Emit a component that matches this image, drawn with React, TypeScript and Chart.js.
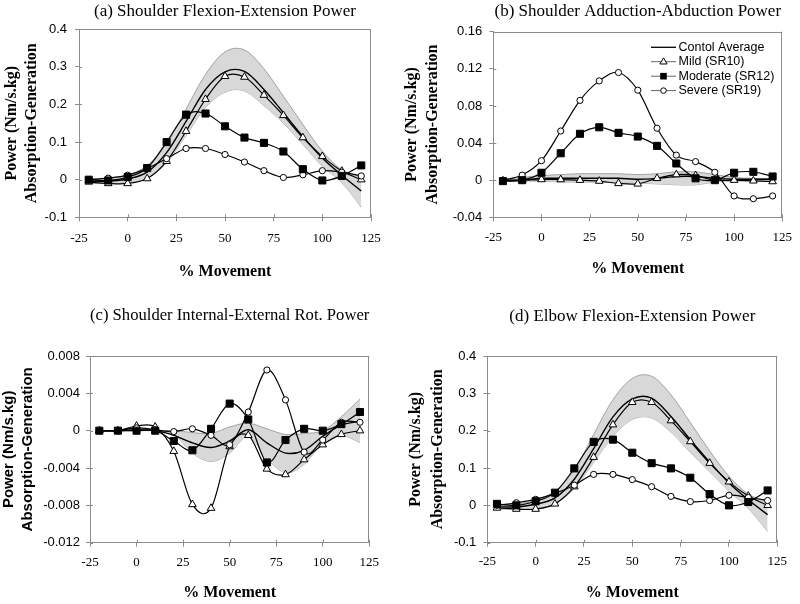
import React, { useEffect, useRef } from "react";
import { Chart, registerables } from "chart.js";

Chart.register(...registerables);

const SERIF = "'Times New Roman', 'Liberation Serif', serif";
const SANS = "Arial, 'Liberation Sans', sans-serif";

// ---------- data ----------
const X_PCT = [-20, -10, 0, 10, 20, 30, 40, 50, 60, 70, 80, 90, 100, 110, 120];

const LEGEND_LABELS = ["Contol Average", "Mild (SR10)", "Moderate (SR12)", "Severe (SR19)"];

const PANEL_TITLES = [
  "(a) Shoulder Flexion-Extension Power",
  "(b) Shoulder Adduction-Abduction Power",
  "(c) Shoulder Internal-External Rot. Power",
  "(d) Elbow Flexion-Extension Power",
];
const Y_TITLE_LINES = ["Power (Nm/s.kg)", "Absorption-Generation"];
const X_TITLE = "% Movement";

// (a) Shoulder flexion-extension
const A_UPPER = [0.003, 0.004, 0.012, 0.038, 0.095, 0.188, 0.28, 0.34, 0.345, 0.295, 0.222, 0.147, 0.076, 0.026, 0.007];
const A_LOWER = [-0.01, -0.01, -0.006, 0.004, 0.045, 0.118, 0.192, 0.233, 0.236, 0.197, 0.15, 0.094, 0.036, -0.008, -0.073];
const A_CONTROL = [-0.004, -0.004, 0.002, 0.02, 0.072, 0.155, 0.24, 0.287, 0.288, 0.24, 0.178, 0.115, 0.058, 0.012, -0.03];
const A_MILD = [-0.006, -0.01, -0.01, 0.003, 0.049, 0.129, 0.214, 0.275, 0.273, 0.225, 0.171, 0.112, 0.062, 0.023, 0.0];
const A_MODERATE = [0.0, -0.002, 0.007, 0.031, 0.1, 0.173, 0.176, 0.142, 0.112, 0.098, 0.075, 0.028, -0.002, 0.01, 0.038];
const A_SEVERE = [0.0, 0.004, 0.012, 0.03, 0.056, 0.083, 0.083, 0.067, 0.047, 0.024, 0.006, 0.013, 0.024, 0.02, 0.01];

// (b) Shoulder adduction-abduction
const B_UPPER = [0.001, 0.003, 0.005, 0.006, 0.007, 0.007, 0.007, 0.006, 0.007, 0.009, 0.009, 0.006, 0.003, 0.002, 0.002];
const B_LOWER = [-0.001, -0.001, -0.001, -0.002, -0.002, -0.002, -0.002, -0.003, -0.004, -0.005, -0.005, -0.002, -0.001, -0.001, -0.001];
const B_CONTROL = [0.0, 0.0, 0.002, 0.002, 0.002, 0.002, 0.002, 0.001, 0.002, 0.004, 0.004, 0.002, 0.001, 0.001, 0.001];
const B_MILD = [-0.0007, 0.0, 0.0007, 0.0007, 0.0, -0.001, -0.0035, -0.004, 0.002, 0.006, 0.005, 0.0, 0.0, -0.0007, -0.0015];
const B_MODERATE = [-0.001, 0.0, 0.008, 0.029, 0.05, 0.057, 0.051, 0.047, 0.037, 0.018, 0.002, 0.0, 0.008, 0.009, 0.004];
const B_SEVERE = [0.0, 0.0055, 0.021, 0.053, 0.086, 0.107, 0.116, 0.097, 0.056, 0.027, 0.02, 0.0085, -0.017, -0.02, -0.017];

// (c) Shoulder internal-external rotation
const C_UPPER = [0.0, 0.0, 0.0, 0.0, 0.0, -0.0002, -0.0003, 0.0004, 0.0008, 0.0002, -0.0004, -0.0003, 0.0, 0.0015, 0.0034];
const C_LOWER = [0.0, 0.0, 0.0, 0.0, -0.0004, -0.0024, -0.0033, -0.0024, -0.0006, -0.003, -0.0045, -0.0036, -0.0013, -0.0005, -0.0013];
const C_CONTROL = [0.0, 0.0, 0.0001, 0.0, -0.0005, -0.0013, -0.0018, -0.0011, 0.0001, -0.0013, -0.0024, -0.0021, -0.0006, 0.0006, 0.001];
const C_MILD = [0.0, 0.0, 0.0005, 0.0004, -0.0022, -0.0079, -0.0083, -0.0017, -0.0005, -0.0041, -0.0047, -0.0031, -0.0015, -0.0004, 0.0];
const C_MODERATE = [0.0, 0.0, 0.0, 0.0, -0.0011, -0.0021, 0.0002, 0.0029, 0.0012, -0.0034, -0.001, 0.0002, 0.0, 0.0007, 0.002];
const C_SEVERE = [0.0, 0.0, 0.0003, 0.0001, -0.0001, 0.0002, -0.0005, -0.0015, 0.002, 0.0065, 0.0033, -0.0023, -0.001, 0.0009, 0.0009];

// (d) Elbow flexion-extension
const D_UPPER = [0.003, 0.004, 0.013, 0.038, 0.095, 0.19, 0.283, 0.34, 0.346, 0.296, 0.222, 0.146, 0.078, 0.03, 0.01];
const D_LOWER = [-0.01, -0.01, -0.006, 0.004, 0.045, 0.115, 0.185, 0.23, 0.234, 0.196, 0.142, 0.09, 0.038, -0.008, -0.07];
const D_CONTROL = [-0.004, -0.004, 0.003, 0.02, 0.07, 0.152, 0.237, 0.285, 0.287, 0.238, 0.176, 0.116, 0.06, 0.015, -0.025];
const D_MILD = [-0.007, -0.01, -0.01, 0.004, 0.05, 0.129, 0.216, 0.276, 0.276, 0.227, 0.171, 0.113, 0.063, 0.025, 0.0];
const D_MODERATE = [0.004, 0.0, 0.011, 0.034, 0.099, 0.17, 0.176, 0.141, 0.113, 0.099, 0.074, 0.03, 0.0, 0.009, 0.04];
const D_SEVERE = [0.0, 0.007, 0.016, 0.032, 0.054, 0.083, 0.083, 0.069, 0.05, 0.024, 0.01, 0.013, 0.027, 0.021, 0.013];

// y axis ranges
const A_Y = { min: -0.1, max: 0.4, step: 0.1 };
const B_Y = { min: -0.04, max: 0.16, step: 0.04 };
const C_Y = { min: -0.012, max: 0.008, step: 0.004 };
const D_Y = { min: -0.1, max: 0.4, step: 0.1 };
const X_RANGE = { min: -25, max: 125, step: 25 };

// ---------- styling / layout ----------
const W = 400;
const H = 302;
const AXIS = "#8c8c8c";
const BAND_FILL = "#d8d8d8";
const BAND_EDGE = "#8f8f8f";

type YTitleStyle = { family: string; size: number; lh: number; first: number };
type PanelDef = {
  key: string;
  left: number;
  top: number;
  L: number;
  R: number;
  T: number;
  B: number;
  titleY: number;
  xTitleY: number;
  xTickPad: number;
  yTickPad: number;
  yTitle: YTitleStyle;
  title: string;
  yr: { min: number; max: number; step: number };
  upper: number[];
  lower: number[];
  control: number[];
  mild: number[];
  moderate: number[];
  severe: number[];
  legend: boolean;
};

const PANELS: PanelDef[] = [
  {
    key: "a", left: 0, top: 0, L: 79, R: 371, T: 29.3, B: 217.3, titleY: 11.7, xTitleY: 272, xTickPad: 9, yTickPad: 8,
    yTitle: { family: SERIF, size: 16, lh: 20, first: 11.7 }, title: PANEL_TITLES[0], yr: A_Y,
    upper: A_UPPER, lower: A_LOWER, control: A_CONTROL, mild: A_MILD, moderate: A_MODERATE, severe: A_SEVERE, legend: false,
  },
  {
    key: "b", left: 400, top: 0, L: 93.3, R: 386, T: 31.7, B: 217.3, titleY: 11.7, xTitleY: 269, xTickPad: 8, yTickPad: 7,
    yTitle: { family: SERIF, size: 16, lh: 21, first: 11.7 }, title: PANEL_TITLES[1], yr: B_Y,
    upper: B_UPPER, lower: B_LOWER, control: B_CONTROL, mild: B_MILD, moderate: B_MODERATE, severe: B_SEVERE, legend: true,
  },
  {
    key: "c", left: 0, top: 302, L: 90, R: 369.3, T: 54, B: 240.7, titleY: 14, xTitleY: 291, xTickPad: 8.5, yTickPad: 6,
    yTitle: { family: SANS, size: 15, lh: 18.7, first: 9 }, title: PANEL_TITLES[2], yr: C_Y,
    upper: C_UPPER, lower: C_LOWER, control: C_CONTROL, mild: C_MILD, moderate: C_MODERATE, severe: C_SEVERE, legend: false,
  },
  {
    key: "d", left: 400, top: 302, L: 87.3, R: 377.3, T: 54, B: 240.7, titleY: 14.5, xTitleY: 291, xTickPad: 7.5, yTickPad: 7,
    yTitle: { family: SERIF, size: 16, lh: 22, first: 16 }, title: PANEL_TITLES[3], yr: D_Y,
    upper: D_UPPER, lower: D_LOWER, control: D_CONTROL, mild: D_MILD, moderate: D_MODERATE, severe: D_SEVERE, legend: false,
  },
];

// ---------- plugins ----------
// Spreadsheet-style smoothing: uniform Catmull-Rom control points (1/6 chord)
const smoothPlugin = {
  id: "uniformSmooth",
  beforeDatasetsDraw(chart: any) {
    chart.getSortedVisibleDatasetMetas().forEach((meta: any) => {
      if (meta.type !== "line" || !meta.dataset) return;
      meta.dataset.updateControlPoints(chart.chartArea, "x");
      const pts = meta.data;
      const n = pts.length;
      for (let i = 0; i < n; i++) {
        const cur = pts[i];
        const prev = pts[Math.max(0, i - 1)];
        const next = pts[Math.min(n - 1, i + 1)];
        const dx = (next.x - prev.x) / 6;
        const dy = (next.y - prev.y) / 6;
        cur.cp1x = cur.x - dx;
        cur.cp1y = cur.y - dy;
        cur.cp2x = cur.x + dx;
        cur.cp2y = cur.y + dy;
      }
      meta.dataset._path = undefined;
    });
  },
};

const framePlugin = {
  id: "frame",
  beforeDatasetsDraw(chart: any) {
    const { ctx, chartArea: a, scales } = chart;
    ctx.save();
    ctx.strokeStyle = AXIS;
    ctx.lineWidth = 1;
    ctx.beginPath();
    ctx.moveTo(a.left, Math.round(a.top) + 0.5);
    ctx.lineTo(a.right, Math.round(a.top) + 0.5);
    ctx.moveTo(Math.round(a.right) - 0.5, a.top);
    ctx.lineTo(Math.round(a.right) - 0.5, a.bottom);
    scales.y.ticks.forEach((t: any) => {
      const p = Math.round(scales.y.getPixelForValue(t.value)) + 0.5;
      ctx.moveTo(a.left, p);
      ctx.lineTo(a.left + 3, p);
    });
    scales.x.ticks.forEach((t: any) => {
      const p = Math.round(scales.x.getPixelForValue(t.value)) + 0.5;
      ctx.moveTo(p, a.bottom);
      ctx.lineTo(p, a.bottom - 3);
    });
    ctx.stroke();
    ctx.restore();
  },
};

function drawMarker(ctx: CanvasRenderingContext2D, kind: string, x: number, y: number) {
  ctx.beginPath();
  if (kind === "triangle") {
    const r = 3.8;
    ctx.moveTo(x, y - r);
    ctx.lineTo(x + r * 0.95, y + r * 0.6);
    ctx.lineTo(x - r * 0.95, y + r * 0.6);
    ctx.closePath();
    ctx.fillStyle = "#fff";
    ctx.fill();
    ctx.stroke();
  } else if (kind === "rect") {
    ctx.rect(x - 3.3, y - 3.3, 6.6, 6.6);
    ctx.fillStyle = "#000";
    ctx.fill();
  } else if (kind === "circle") {
    ctx.arc(x, y, 2.8, 0, Math.PI * 2);
    ctx.fillStyle = "#fff";
    ctx.fill();
    ctx.stroke();
  }
}

const legendPlugin = {
  id: "panelLegend",
  afterDraw(chart: any) {
    const opts = chart.options.plugins.panelLegend;
    if (!opts || !opts.show) return;
    const { ctx } = chart;
    const rows = [47.3, 61.7, 76.2, 90.6];
    const kinds = ["none", "triangle", "rect", "circle"];
    const x1 = 251;
    const x2 = 276;
    const mx = 263.5;
    const tx = 278.5;
    ctx.save();
    LEGEND_LABELS.forEach((lab, i) => {
      const y = rows[i];
      ctx.strokeStyle = i === 0 ? "#000" : "#666";
      ctx.lineWidth = i === 0 ? 1.3 : 1;
      ctx.beginPath();
      ctx.moveTo(x1, y);
      ctx.lineTo(x2, y);
      ctx.stroke();
      ctx.strokeStyle = "#000";
      ctx.lineWidth = 1;
      drawMarker(ctx, kinds[i], mx, y);
      ctx.fillStyle = "#000";
      ctx.font = `12.5px ${SANS}`;
      ctx.textBaseline = "middle";
      ctx.textAlign = "left";
      ctx.fillText(lab, tx, y);
    });
    ctx.restore();
  },
};

// ---------- chart config ----------
function fmtY(v: number) {
  return String(parseFloat(Number(v).toFixed(4)));
}

function makeConfig(p: PanelDef): any {
  const pts = (ys: number[]) => ys.map((y, i) => ({ x: X_PCT[i], y }));
  const seriesBase = { tension: 0.4, fill: false, borderWidth: 1.2, borderColor: "#000", pointBorderColor: "#000", pointBorderWidth: 1 };
  const datasets = [
    { label: "band-upper", data: pts(p.upper), borderColor: BAND_EDGE, borderWidth: 0.8, backgroundColor: BAND_FILL, fill: "+1", pointRadius: 0, tension: 0.4, order: 5 },
    { label: "band-lower", data: pts(p.lower), borderColor: BAND_EDGE, borderWidth: 0.8, fill: false, pointRadius: 0, tension: 0.4, order: 5 },
    { label: LEGEND_LABELS[0], data: pts(p.control), borderColor: "#000", borderWidth: 1.4, pointRadius: 0, tension: 0.4, fill: false, order: 4 },
    { ...seriesBase, label: LEGEND_LABELS[1], data: pts(p.mild), pointStyle: "triangle", pointRadius: 4.4, pointBackgroundColor: "#fff", order: 3 },
    { ...seriesBase, label: LEGEND_LABELS[3], data: pts(p.severe), pointStyle: "circle", pointRadius: 3.1, pointBackgroundColor: "#fff", order: 2 },
    { ...seriesBase, label: LEGEND_LABELS[2], data: pts(p.moderate), pointStyle: "rect", pointRadius: 5, pointBackgroundColor: "#000", order: 1 },
  ];

  return {
    type: "line",
    data: { datasets },
    plugins: [smoothPlugin, framePlugin, legendPlugin],
    options: {
      responsive: false,
      animation: false,
      devicePixelRatio: 1,
      layout: { padding: { left: 0, right: W - p.R, top: 0, bottom: 0 } },
      events: [],
      plugins: {
        legend: { display: false },
        tooltip: { enabled: false },
        panelLegend: { show: p.legend },
        title: {
          display: true,
          text: p.title,
          color: "#000",
          fullSize: false,
          font: { family: SERIF, size: 17, weight: "normal", lineHeight: 1.2 },
          padding: { top: p.titleY - 10.2, bottom: p.T - p.titleY - 10.2 },
        },
      },
      scales: {
        x: {
          type: "linear",
          min: X_RANGE.min,
          max: X_RANGE.max,
          ticks: {
            stepSize: X_RANGE.step,
            color: "#000",
            font: { family: SERIF, size: 13, lineHeight: 1.2 },
            padding: p.xTickPad,
            maxRotation: 0,
            autoSkip: false,
          },
          grid: { drawOnChartArea: false, drawTicks: true, tickLength: 4, color: AXIS },
          border: { display: true, color: AXIS, width: 1 },
          title: {
            display: true,
            text: X_TITLE,
            color: "#000",
            font: { family: SERIF, size: 16, weight: "bold", lineHeight: 1.25 },
            padding: { top: 0, bottom: H - 10 - p.xTitleY },
          },
          afterFit: (s: any) => {
            s.height = H - p.B;
          },
        },
        y: {
          type: "linear",
          min: p.yr.min,
          max: p.yr.max,
          ticks: {
            stepSize: p.yr.step,
            color: "#000",
            font: { family: SANS, size: 13 },
            padding: p.yTickPad,
            callback: (v: number) => fmtY(v),
          },
          grid: { drawOnChartArea: false, drawTicks: true, tickLength: 4, color: AXIS },
          border: { display: true, color: AXIS, width: 1 },
          title: {
            display: true,
            text: Y_TITLE_LINES,
            color: "#000",
            font: { family: p.yTitle.family, size: p.yTitle.size, weight: "bold", lineHeight: p.yTitle.lh / p.yTitle.size },
            padding: { top: p.yTitle.first - p.yTitle.lh / 2, bottom: 0 },
          },
          afterFit: (s: any) => {
            s.width = p.L;
          },
        },
      },
    },
  };
}

function Panel({ p }: { p: PanelDef }) {
  const ref = useRef<HTMLCanvasElement | null>(null);
  useEffect(() => {
    if (!ref.current) return;
    const chart = new Chart(ref.current, makeConfig(p));
    return () => chart.destroy();
  }, [p]);
  return (
    <div style={{ position: "absolute", left: p.left, top: p.top, width: W, height: H }}>
      <canvas ref={ref} width={W} height={H} style={{ display: "block", width: W, height: H }} />
    </div>
  );
}

export default function App() {
  return (
    <div style={{ position: "absolute", left: 0, top: 0, width: 800, height: 604, background: "#fff", overflow: "hidden" }}>
      {PANELS.map((p) => (
        <Panel key={p.key} p={p} />
      ))}
    </div>
  );
}
